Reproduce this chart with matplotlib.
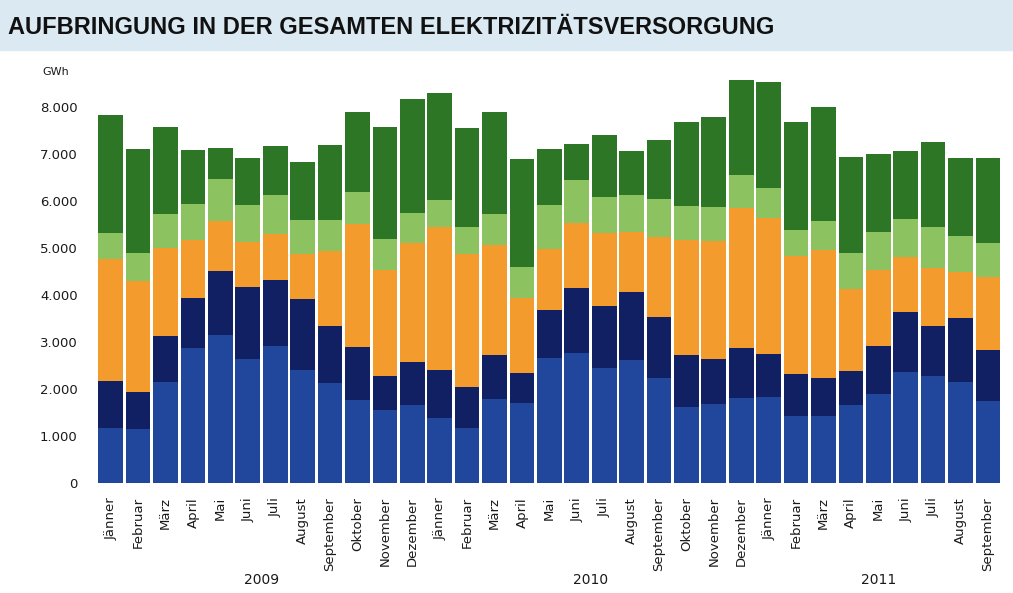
import matplotlib
matplotlib.use("Agg")
import matplotlib.pyplot as plt
import numpy as np

""" Daten (GWh) """
months = ["Jänner", "Februar", "März", "April", "Mai", "Juni", "Juli", "August",
          "September", "Oktober", "November", "Dezember"]
labels = months + months + months[:9]
years = ["2009", "2010", "2011"]

# Schichten von unten nach oben
blue = [1180, 1150, 2160, 2870, 3150, 2650, 2920, 2410, 2120, 1770, 1560, 1660,
        1380, 1180, 1780, 1700, 2660, 2760, 2440, 2620, 2240, 1630, 1690, 1820,
        1840, 1420, 1430, 1660, 1890, 2370, 2280, 2160, 1750]
navy = [990, 780, 970, 1060, 1360, 1510, 1400, 1510, 1230, 1120, 720, 920,
        1030, 860, 940, 640, 1030, 1380, 1330, 1450, 1300, 1100, 960, 1050,
        910, 900, 800, 730, 1030, 1260, 1070, 1360, 1080]
orange = [2590, 2370, 1860, 1230, 1070, 970, 980, 940, 1590, 2610, 2250, 2530,
          3040, 2830, 2340, 1590, 1290, 1390, 1550, 1270, 1700, 2440, 2490, 2970,
          2880, 2500, 2730, 1730, 1620, 1180, 1220, 960, 1560]
light_green = [560, 600, 720, 780, 880, 790, 820, 740, 660, 690, 650, 640,
               570, 570, 650, 670, 940, 920, 760, 790, 790, 730, 730, 710,
               650, 570, 620, 780, 790, 810, 870, 770, 710]
dark_green = [2510, 2200, 1860, 1130, 660, 980, 1040, 1220, 1590, 1690, 2390, 2410,
              2270, 2110, 2170, 2280, 1180, 750, 1320, 930, 1260, 1770, 1920, 2020,
              2250, 2290, 2410, 2040, 1660, 1440, 1810, 1650, 1800]

layers = [blue, navy, orange, light_green, dark_green]
colors = ["#20479b", "#111f63", "#f39b2c", "#8cc25f", "#2d7625"]

""" Figur """
fig = plt.figure(figsize=(10.13, 5.93), dpi=100)
fig.patch.set_facecolor("white")

# Titelband
band = plt.Rectangle((0, 0.915), 1, 0.085, transform=fig.transFigure,
                     color="#dbe9f2", zorder=0)
fig.patches.append(band)
fig.text(0.008, 0.953, "AUFBRINGUNG IN DER GESAMTEN ELEKTRIZITÄTSVERSORGUNG",
         fontsize=17, fontweight="bold", va="center", ha="left",
         family=["Liberation Sans", "DejaVu Sans"], color="#111111")

ax = fig.add_axes([0.0958, 0.185, 0.893, 0.6907])

x = np.arange(len(labels))
bottom = np.zeros(len(labels))
for vals, c in zip(layers, colors):
    ax.bar(x, vals, width=0.9, bottom=bottom, color=c, linewidth=0)
    bottom += np.array(vals)

ax.set_xlim(-0.5, len(labels) - 0.5)
ax.set_ylim(0, 8700)
ax.set_yticks(range(0, 9000, 1000))
ax.set_yticklabels([f"{v:,}".replace(",", ".") for v in range(0, 9000, 1000)],
                   fontsize=9.5, color="#1a1a1a")
ax.set_xticks(x)
ax.set_xticklabels(labels, rotation=90, fontsize=9.5, color="#1a1a1a")
ax.tick_params(axis="both", length=0)
ax.tick_params(axis="y", pad=14)
ax.tick_params(axis="x", pad=10)
for s in ax.spines.values():
    s.set_visible(False)

fig.text(0.042, 0.878, "GWh", fontsize=8, color="#1a1a1a", ha="left", va="center")

# Jahresbeschriftung unter den Monatsgruppen
groups = [(0, 11), (12, 23), (24, 32)]
for yr, (a, b) in zip(years, groups):
    ax.text((a + b) / 2, -0.235, yr, transform=ax.get_xaxis_transform(),
            ha="center", va="center", fontsize=10, color="#1a1a1a")

fig.savefig("out.png", dpi=100)
